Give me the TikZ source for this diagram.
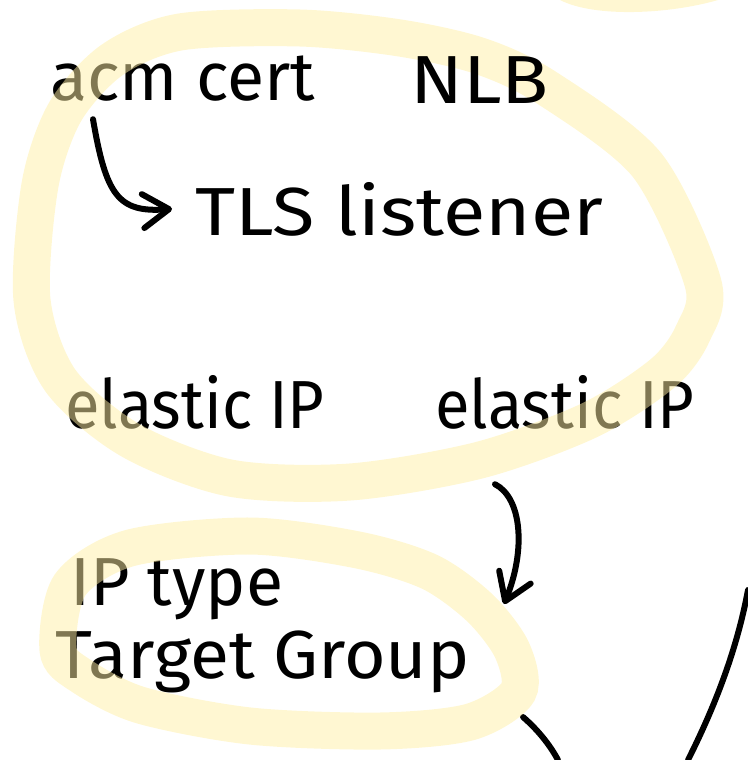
\documentclass[tikz,border=0pt]{standalone}
\usepackage{fontspec}
\setmainfont{Fira Sans}
\usetikzlibrary{arrows.meta}
\definecolor{hilite}{RGB}{255,239,165}
\newcommand\hw[2]{\scalebox{#1}[1]{#2}}
\tikzset{
  hand/.style  ={font=\fontsize{34}{36}\selectfont,inner sep=0pt,anchor=base west},
  ink/.style   ={line width=3pt,line cap=round,line join=round},
  inkarr/.style={ink,-{Straight Barb[length=13pt,width=17pt,round]}},
  marker/.style={draw=hilite,line width=18.5pt,opacity=0.5,line cap=round},
}

\begin{document}
\begin{tikzpicture}[x=0.5pt,y=-0.5pt]
  \useasboundingbox (0,0) rectangle (748,760);
  % TOP: balancer, its listener and its two addresses
  \node[hand] (acm)  at (50,100)  {acm cert};
  \node[hand] (tls)  at (195,235) {\hw{1.14}{TLS listener}};
  \node[hand] (eipL) at (65,428)  {\hw{0.93}{elastic IP}};
  \node[hand] (eipR) at (435,428) {\hw{0.93}{elastic IP}};
  % BOTTOM: target group
  \node[hand] (iptype) at (70,605) {IP type};
  \node[hand] (tg)     at (55,678) {\hw{1.05}{Target Group}};
  \coordinate (tgin) at (504,604);
  % arrows
  \draw[inkarr] ([shift={(43,18)}]acm.south west) .. controls (106,195) and (118,213) .. ([shift={(-23,0)}]tls.west);
  \draw[inkarr] ([shift={(60,55)}]eipR.south west) .. controls (522,498) and (526,550) .. (tgin);
  % strokes running off the page
  \draw[ink] (748,590) .. controls (735,660) and (708,720) .. (688,760);
  \draw[ink] (523,717) .. controls (538,730) and (550,745) .. (558,760);
  % highlighter rings, laid over the ink
  \draw[marker] plot[smooth cycle] coordinates {(32,300) (40,185) (65,112) (112,60) (180,32) (300,28) (400,38) (480,56) (547,88) (647,165) (703,283) (693,333) (663,373) (590,420) (480,460) (350,482) (230,478) (130,440) (60,380)};
  \draw[marker] plot[smooth cycle] coordinates {(58,650) (70,585) (130,548) (250,536) (358,550) (430,572) (480,608) (512,650) (518,692) (470,722) (380,731) (250,726) (140,705) (80,675)};
  \fill[hilite,opacity=0.5] (560,0) .. controls (595,18) and (670,14) .. (718,0) -- cycle;
  % written after the highlighter
  \node[hand] (nlb) at (410,103) {\hw{1.14}{NLB}};
\end{tikzpicture}
\end{document}
